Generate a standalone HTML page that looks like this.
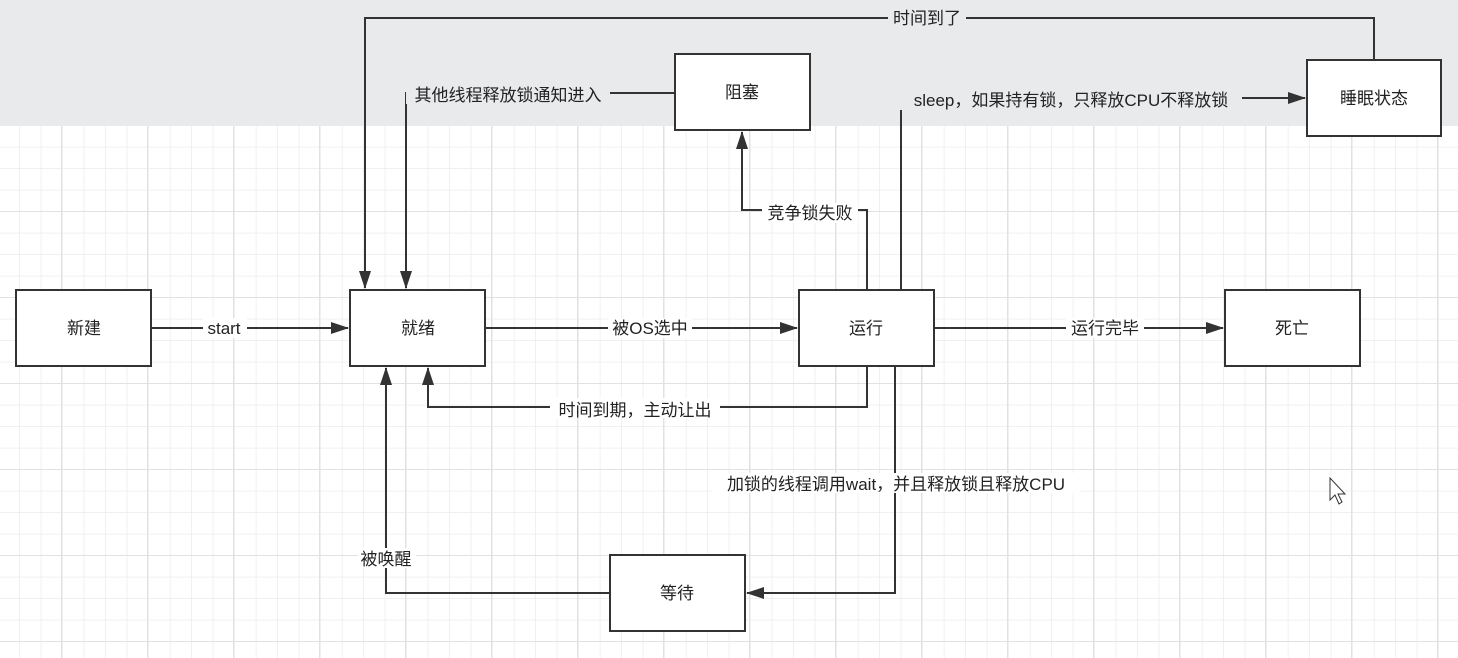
<!DOCTYPE html>
<html><head><meta charset="utf-8"><style>
html,body{margin:0;padding:0;background:#fff;}
svg{display:block;}
text{font-family:"Liberation Sans","Noto Sans CJK SC",sans-serif;font-size:17px;fill:#222;}
</style></head><body>
<svg width="1458" height="658" viewBox="0 0 1458 658" xmlns="http://www.w3.org/2000/svg">
<defs>
<pattern id="minor" width="21.5" height="21.5" patternUnits="userSpaceOnUse" x="-1.5" y="126">
<path d="M21.5 0V21.5M0 21.5H21.5" stroke="#ececec" stroke-width="1.5" fill="none"/>
</pattern>
<pattern id="major" width="86" height="86" patternUnits="userSpaceOnUse" x="-24" y="126">
<path d="M86 0V86M0 86H86" stroke="#e2e2e2" stroke-width="2" fill="none"/>
</pattern>
<marker id="a" markerWidth="10" markerHeight="10" refX="9" refY="5" orient="auto" markerUnits="userSpaceOnUse" viewBox="0 0 10 10">
<path d="M0 0L10 5L0 10z" fill="#333"/>
</marker>
<marker id="ar" markerWidth="18" markerHeight="12" refX="17" refY="6" orient="auto" markerUnits="userSpaceOnUse" viewBox="0 0 18 12">
<path d="M0 0L18 6L0 12z" fill="#333"/>
</marker>
</defs>
<rect width="1458" height="658" fill="#fff"/>
<rect y="126" width="1458" height="532" fill="url(#minor)"/>
<rect y="126" width="1458" height="532" fill="url(#major)"/>
<rect width="1458" height="126" fill="#e8eaec"/>

<g stroke="#333" stroke-width="2" fill="none">
<path d="M151 328H348" marker-end="url(#ar)"/>
<path d="M485 328H797" marker-end="url(#ar)"/>
<path d="M934 328H1223" marker-end="url(#ar)"/>
<path d="M1374 60V18H365V288" marker-end="url(#ar)"/>
<path d="M675 93H406V288" marker-end="url(#ar)"/>
<path d="M867 290V210H742V132" marker-end="url(#ar)"/>
<path d="M901 290V98H1305" marker-end="url(#ar)"/>
<path d="M867 366V407H428V368" marker-end="url(#ar)"/>
<path d="M895 366V593H747" marker-end="url(#ar)"/>
<path d="M610 593H386V368" marker-end="url(#ar)"/>
</g>

<g fill="#fff" stroke="#333" stroke-width="2">
<rect x="16" y="290" width="135" height="76"/>
<rect x="350" y="290" width="135" height="76"/>
<rect x="799" y="290" width="135" height="76"/>
<rect x="1225" y="290" width="135" height="76"/>
<rect x="675" y="54" width="135" height="76"/>
<rect x="1307" y="60" width="134" height="76"/>
<rect x="610" y="555" width="135" height="76"/>
</g>

<g text-anchor="middle">
<text x="84" y="334">新建</text>
<text x="418" y="334">就绪</text>
<text x="866" y="334">运行</text>
<text x="1292" y="334">死亡</text>
<text x="742" y="98">阻塞</text>
<text x="1374" y="104">睡眠状态</text>
<text x="677" y="599">等待</text>
</g>

<g text-anchor="middle">
<rect x="203" y="318" width="44" height="20" fill="#fff"/><text x="224" y="334">start</text>
<rect x="608" y="318" width="84" height="20" fill="#fff"/><text x="650" y="334">被OS选中</text>
<rect x="1066" y="318" width="78" height="20" fill="#fff"/><text x="1105" y="334">运行完毕</text>
<rect x="888" y="8" width="78" height="20" fill="#e8eaec"/><text x="927" y="24">时间到了</text>
<rect x="406" y="84" width="204" height="20" fill="#e8eaec"/><text x="508" y="101">其他线程释放锁通知进入</text>
<rect x="762" y="203" width="96" height="20" fill="#fff"/><text x="810" y="219">竞争锁失败</text>
<rect x="900" y="88" width="342" height="22" fill="#e8eaec"/><text x="1071" y="106">sleep，如果持有锁，只释放CPU不释放锁</text>
<rect x="550" y="398" width="170" height="20" fill="#fff"/><text x="635" y="416">时间到期，主动让出</text>
<rect x="712" y="473" width="368" height="20" fill="#fff"/><text x="896" y="490">加锁的线程调用wait，并且释放锁且释放CPU</text>
<rect x="358" y="548" width="58" height="20" fill="#fff"/><text x="386" y="565">被唤醒</text>
</g>
<path d="M1330 478V500L1335 495L1339 504L1342 502L1338 494H1345Z" fill="#fff" stroke="#333" stroke-width="1"/>
</svg>
</body></html>
